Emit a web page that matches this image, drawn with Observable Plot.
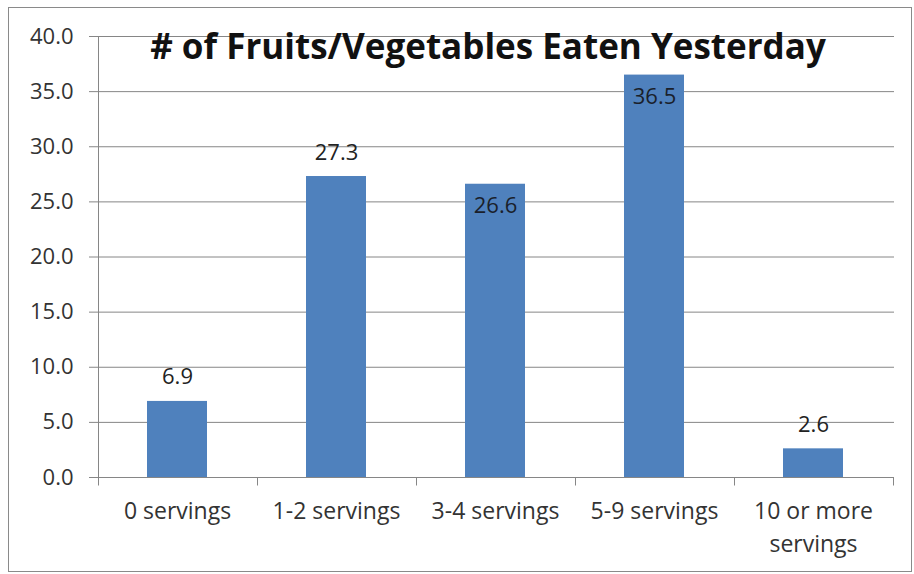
<!DOCTYPE html>
<html><head><meta charset="utf-8">
<script src="https://cdn.jsdelivr.net/npm/d3@7"></script>
<script src="https://cdn.jsdelivr.net/npm/@observablehq/plot@0.6"></script>
<style>
body{margin:0;background:#fff;}
#wrap{position:relative;width:914px;height:574px;}
#border{position:absolute;left:8px;top:7px;width:904px;height:565px;border:1px solid #8a8a8a;box-sizing:border-box;pointer-events:none}
svg{display:block}
</style></head><body><div id="wrap"><div id="border"></div></div>
<script>
const categories = ["0 servings", "1-2 servings", "3-4 servings", "5-9 servings", "10 or more servings"];
const values = [6.9, 27.3, 26.6, 36.5, 2.6];
const yTicks = [0, 5, 10, 15, 20, 25, 30, 35, 40];
const title = "# of Fruits/Vegetables Eaten Yesterday";
const insideLabels = ["3-4 servings", "5-9 servings"];
const xTickLabels = {"10 or more servings": "10 or more\nservings"};

const data = categories.map((c, i) => ({category: c, value: values[i]}));
const FONT = "'Open Sans', sans-serif";
const GRID = "#868686";

function boundaryTicks() {
  return Plot.ruleY([0], {
    render: (index, scales) => {
      const x = scales.x, y = scales.y;
      const step = x.step(), bw = x.bandwidth();
      const bounds = categories.map(c => x(c) + bw / 2 - step / 2);
      bounds.push(bounds[bounds.length - 1] + step);
      const y0 = Math.round(y(0)) + 0.5;
      const g = d3.create("svg:g").attr("stroke", GRID).attr("stroke-width", 1);
      g.selectAll("line.t").data(bounds).join("line")
        .attr("x1", d => Math.round(d) + 0.5).attr("x2", d => Math.round(d) + 0.5)
        .attr("y1", y0).attr("y2", y0 + 8);
      g.append("line")
        .attr("x1", Math.round(bounds[0]) + 0.5).attr("x2", Math.round(bounds[0]) + 0.5)
        .attr("y1", Math.round(y(yTicks[yTicks.length - 1])) + 0.5).attr("y2", y0);
      return g.node();
    }
  });
}

const chart = Plot.plot({
  width: 914,
  height: 574,
  marginLeft: 97,
  marginRight: 20,
  marginTop: 36,
  marginBottom: 97,
  style: {fontFamily: FONT, background: "transparent"},
  x: {type: "band", domain: categories, paddingInner: 0.62, paddingOuter: 0.31, label: null},
  y: {domain: [0, 40], label: null},
  marks: [
    Plot.ruleY(yTicks, {stroke: GRID, strokeOpacity: 1}),
    Plot.barY(data, {x: "category", y: "value", fill: "#4F81BD"}),
    boundaryTicks(),
    Plot.axisY({ticks: yTicks, tickFormat: d => d.toFixed(1), tickSize: 8, tickPadding: 16, stroke: GRID, fontSize: 22, fill: "#333"}),
    Plot.axisX({tickSize: 0, tickPadding: 19, tickFormat: d => xTickLabels[d] ?? d, fontSize: 23, lineHeight: 1.4, fill: "#333"}),
    Plot.text(data.filter(d => !insideLabels.includes(d.category)), {
      x: "category", y: "value", text: d => d.value.toFixed(1), dy: -24, fontSize: 22, fill: "#222", lineAnchor: "middle"
    }),
    Plot.text(data.filter(d => insideLabels.includes(d.category)), {
      x: "category", y: "value", text: d => d.value.toFixed(1), dy: 22, fontSize: 22, fill: "#1a1f2b", lineAnchor: "middle"
    }),
    Plot.text([title], {
      text: d => d, frameAnchor: "top", dx: -8, dy: 11, fontSize: 35, fontWeight: "bold", fill: "#111", lineAnchor: "middle"
    })
  ]
});
document.getElementById("wrap").prepend(chart);
</script>
</body></html>
